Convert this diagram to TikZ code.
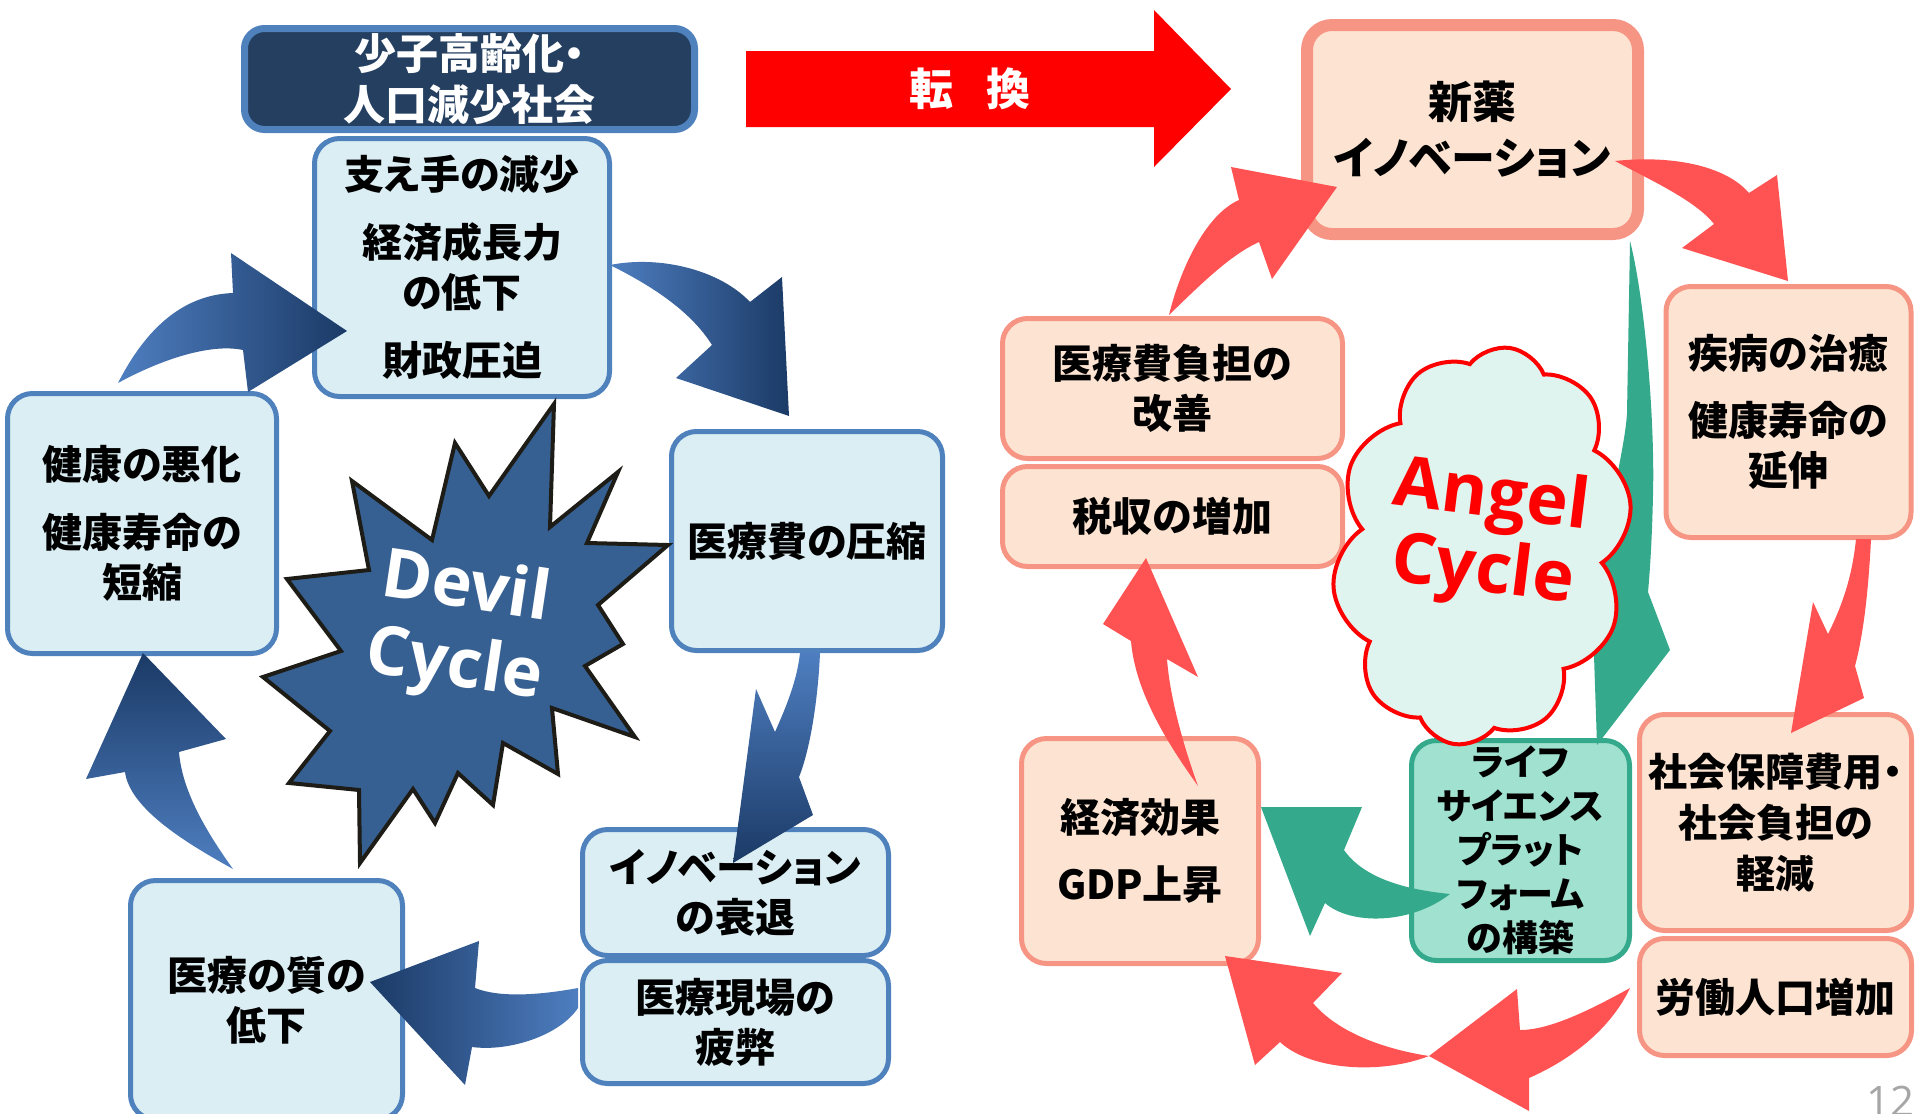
\documentclass[tikz,border=0pt]{standalone}
\usepackage{fontspec}
\newfontfamily\jp{Noto Sans CJK JP}[RawFeature={+palt}]
\newfontfamily\lat{Open Sans}
\usetikzlibrary{shapes.symbols}
\definecolor{bluebd}{HTML}{4F81BD}
\definecolor{bluefill}{HTML}{DBEEF4}
\definecolor{navyfill}{HTML}{243F60}
\definecolor{peachfill}{HTML}{FDE4D2}
\definecolor{salmonbd}{HTML}{F79584}
\definecolor{mintfill}{HTML}{A0E1CF}
\definecolor{greenbd}{HTML}{35A98B}
\definecolor{redarrow}{HTML}{FF5353}
\definecolor{cloudfill}{HTML}{DFF4EE}
\definecolor{starfill}{HTML}{376092}
\definecolor{stardark}{HTML}{1E1C16}
\definecolor{bdark}{HTML}{1B3A66}
\definecolor{blight}{HTML}{5C95DD}
\definecolor{bmid}{HTML}{4E7EC0}
\begin{document}
\begin{tikzpicture}[x=1pt,y=-1pt,
  bluebox/.style={draw=bluebd, line width=5pt, fill=bluefill, rounded corners=25pt, align=center, inner sep=0pt, font=\jp\bfseries\fontsize{40}{50}\selectfont},
  peachbox/.style={draw=salmonbd, line width=5pt, fill=peachfill, rounded corners=25pt, align=center, inner sep=0pt, font=\jp\bfseries\fontsize{40}{50}\selectfont},
  lifebox/.style={draw=greenbd, line width=5pt, fill=mintfill, rounded corners=25pt, align=center, inner sep=0pt, font=\jp\bfseries\fontsize{36}{44}\selectfont},
  darkbox/.style={draw=bluebd, line width=7pt, fill=navyfill, rounded corners=20pt, align=center, inner sep=0pt, text=white, font=\jp\bfseries\fontsize{42}{51}\selectfont},
  redblock/.style={fill=redarrow, draw=none},
  greenblock/.style={fill=greenbd, draw=none},
]
\useasboundingbox (0,0) rectangle (1915,1114);
\clip (0,0) rectangle (1915,1114);

% ---------- left side: devil cycle ----------
\node[darkbox, minimum width=450pt, minimum height=101pt] (aging) at (469.5,79) {少子高齢化・\\人口減少社会};
\node[bluebox, minimum width=295pt, minimum height=258pt] (support) at (462,267.5) {支え手の減少\\[18pt]経済成長力\\の低下\\[18pt]財政圧迫};
\node[bluebox, minimum width=269pt, minimum height=260pt] (health) at (142,523.5) {健康の悪化\\[18pt]健康寿命の\\短縮};
\node[bluebox, minimum width=271pt, minimum height=219pt] (cost) at (807,541) {医療費の圧縮};
\node[bluebox, minimum width=306pt, minimum height=126pt] (innov) at (735.5,892.5) {イノベーション\\の衰退};
\node[bluebox, minimum width=306pt, minimum height=123pt] (field) at (735.5,1022) {医療現場の\\疲弊};
\node[bluebox, minimum width=272pt, minimum height=239pt] (quality) at (266.5,1000) {医療の質の\\低下};

% starburst
\path[fill=starfill, draw=stardark, line width=4pt, line join=miter]
  (554,404) -- (550,527) -- (618,472) -- (587,543) -- (668,545) -- (598,605) -- (623,644) -- (585,666)
  -- (635,737) -- (552,708) -- (558,774) -- (503,743) -- (493,805) -- (458,773) -- (435,823) -- (413,789)
  -- (360,863) -- (359,790) -- (289,783) -- (330,731) -- (263,677) -- (341,651) -- (287,579) -- (369,570)
  -- (352,481) -- (432,540) -- (455,443) -- (489,496) -- cycle;
\node[font=\lat\bfseries\fontsize{68}{78}\selectfont, text=white, align=center, rotate=-8.5] (devil) at (460,629) {Devil\\Cycle};

% blue block arrows
\path[shade, shading=axis, left color=bmid, middle color=blight, right color=bdark]
  (118,383) .. controls (140,340) and (175,295) .. (233,293) -- (231,253) -- (347,331) -- (248,392)
  -- (243,350) .. controls (210,343) and (160,360) .. (118,383) -- cycle;
\path[shade, shading=axis, left color=bmid, middle color=blight, right color=bdark]
  (610,265) .. controls (660,255) and (720,270) .. (750,302) -- (782,277) -- (789,416) -- (676,378)
  -- (712,345) .. controls (690,310) and (650,285) .. (610,265) -- cycle;
\path[shade, shading=axis, top color=bmid, middle color=blight, bottom color=bdark]
  (800,653) -- (820,653) .. controls (818,700) and (810,750) .. (799,777) -- (813,815) -- (733,863)
  -- (756,689) -- (775,732) .. controls (787,705) and (797,680) .. (800,653) -- cycle;
\path[shade, shading=axis, left color=bdark, middle color=blight, right color=bmid]
  (578,988) .. controls (540,995) and (500,998) .. (475,988) -- (479,941) -- (370,982) -- (465,1085)
  -- (472,1047) .. controls (510,1052) and (560,1035) .. (578,1008) -- cycle;
\path[shade, shading=axis, top color=bdark, middle color=blight, bottom color=bmid]
  (143,653) -- (226,739) -- (179,752) .. controls (182,790) and (205,830) .. (233,869)
  .. controls (190,845) and (130,810) .. (125,772) -- (86,779) -- cycle;

% ---------- transition arrow ----------
\path[fill=red] (746,51) -- (1154,51) -- (1154,10) -- (1231,89) -- (1154,167) -- (1154,127) -- (746,127) -- cycle;
\node[font=\jp\bfseries\fontsize{44}{44}\selectfont, text=white] (tenkan) at (970,89) {転\hspace{34pt}換};

% ---------- right side: angel cycle ----------
\node[peachbox, line width=12pt, minimum width=331pt, minimum height=209pt, font=\jp\bfseries\fontsize{44}{56}\selectfont] (drug) at (1472.5,129.5) {新薬\\イノベーション};
\node[peachbox, minimum width=340pt, minimum height=140pt] (burden) at (1172.5,388.5) {医療費負担の\\改善};
\node[peachbox, minimum width=340pt, minimum height=100pt] (tax) at (1172.5,516.5) {税収の増加};
\node[peachbox, minimum width=245pt, minimum height=251pt] (cure) at (1788.5,412) {疾病の治癒\\[17pt]健康寿命の\\延伸};
\node[peachbox, minimum width=272pt, minimum height=216pt, font=\jp\bfseries\fontsize{39}{51}\selectfont] (social) at (1775.5,822.5) {社会保障費用・\\社会負担の\\軽減};
\node[peachbox, minimum width=272pt, minimum height=117pt] (labor) at (1775.5,997) {労働人口増加};
\node[peachbox, minimum width=237pt, minimum height=225pt] (gdp) at (1140,851) {経済効果\\[17pt]GDP上昇};
\node[lifebox, minimum width=218pt, minimum height=220pt] (life) at (1520.5,850.5) {ライフ\\サイエンス\\プラット\\フォーム\\の構築};

% green arrow from drug box to life box
\path[greenblock] (1630,241) .. controls (1645,300) and (1655,420) .. (1653,495)
  .. controls (1652,540) and (1650,570) .. (1648,592) -- (1670,650) -- (1597,745) -- (1593,626)
  .. controls (1605,520) and (1625,450) .. (1627,413) -- cycle;

% cloud
\node[cloud, draw=red, line width=4pt, fill=cloudfill, cloud puffs=10, cloud puff arc=120,
  minimum width=297pt, minimum height=400pt, rotate=-8] (cloud) at (1482,546) {};
\node[font=\lat\bfseries\fontsize{70}{75}\selectfont, text=red, align=center, rotate=-7] (angel) at (1487,536) {Angel\\Cycle};

% green arrow life -> gdp
\path[greenblock] (1450,894) .. controls (1410,890) and (1365,880) .. (1344,850) -- (1362,807) -- (1261,807)
  -- (1310,936) -- (1325,903) .. controls (1350,925) and (1410,925) .. (1450,894) -- cycle;

% red block arrows
\path[redblock] (1169,315) .. controls (1180,270) and (1205,215) .. (1239,200) -- (1231,167) -- (1337,187)
  -- (1272,279) -- (1259,242) .. controls (1230,255) and (1200,285) .. (1169,315) -- cycle;
\path[redblock] (1615,161) .. controls (1670,155) and (1725,165) .. (1749,193) -- (1777,175) -- (1788,281)
  -- (1682,248) -- (1714,224) .. controls (1695,200) and (1650,180) .. (1615,161) -- cycle;
\path[redblock] (1856,539) -- (1871,539) .. controls (1868,600) and (1862,640) .. (1855,666) -- (1864,698)
  -- (1791,733) -- (1813,602) -- (1828,634) .. controls (1840,610) and (1852,580) .. (1856,539) -- cycle;
\path[redblock] (1630,988) .. controls (1590,1010) and (1550,1030) .. (1520,1030) -- (1517,989) -- (1429,1056)
  -- (1529,1111) -- (1529,1078) .. controls (1570,1060) and (1610,1030) .. (1630,988) -- cycle;
\path[redblock] (1429,1056) .. controls (1390,1050) and (1340,1035) .. (1313,1003) -- (1342,973) -- (1225,956)
  -- (1255,1065) -- (1280,1042) .. controls (1310,1070) and (1380,1075) .. (1429,1056) -- cycle;
\path[redblock] (1146,558) -- (1198,677) -- (1167,659) .. controls (1170,700) and (1185,750) .. (1198,786)
  .. controls (1165,740) and (1135,690) .. (1131,641) -- (1103,624) -- cycle;

% page number
\node[font=\lat\fontsize{42}{42}\selectfont, text=black!35, anchor=base west, inner sep=0pt] (pagenum) at (1866,1116) {12};
\end{tikzpicture}
\end{document}
